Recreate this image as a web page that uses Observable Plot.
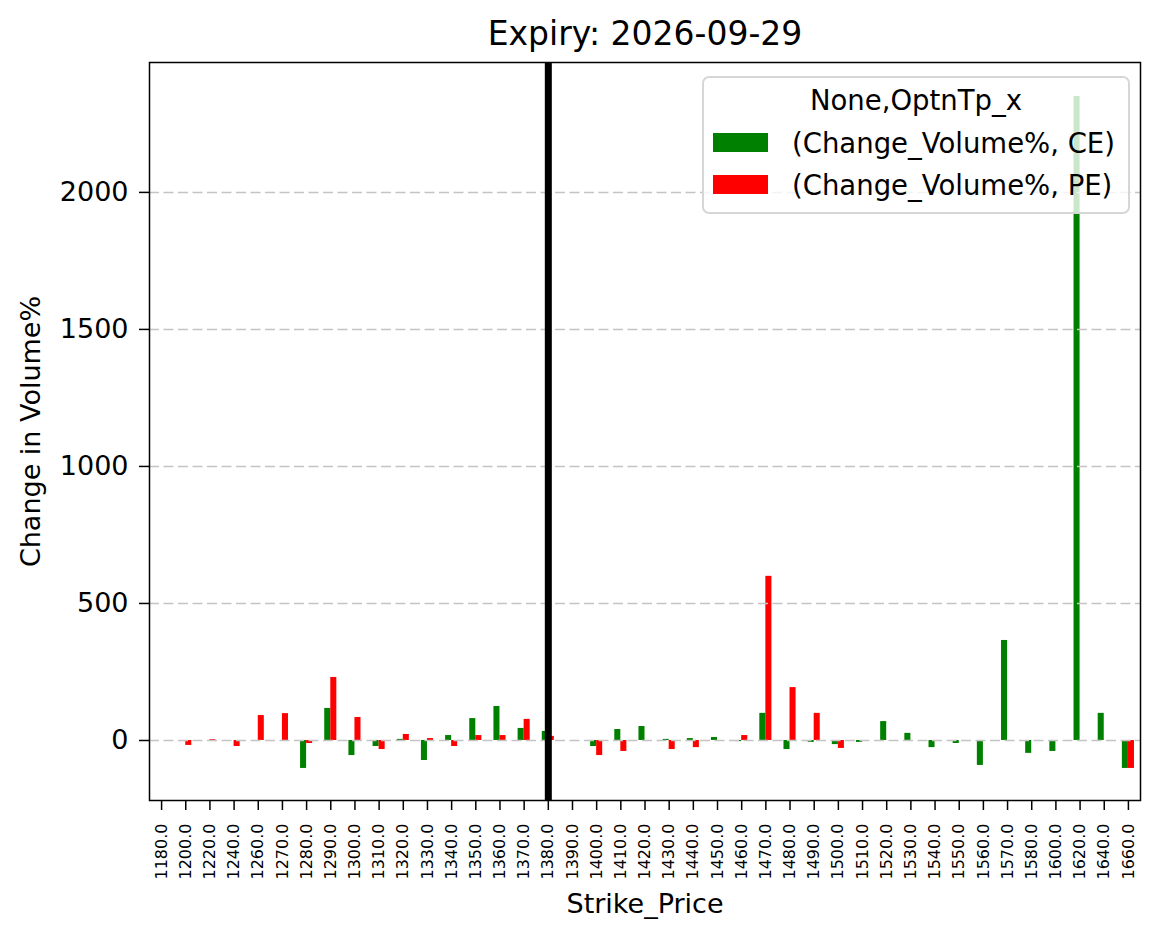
<!DOCTYPE html>
<html>
<head>
<meta charset="utf-8">
<script src="https://cdn.jsdelivr.net/npm/d3@7"></script>
<script src="https://cdn.jsdelivr.net/npm/@observablehq/plot@0.6"></script>
<style>
  html, body { margin: 0; padding: 0; background: #fff; }
  #wrap { position: relative; width: 1161px; height: 939px; font-family: "DejaVu Sans", sans-serif; }
  #legend { position: absolute; left: 702px; top: 76px; width: 424px; height: 134px;
    border: 2px solid #d6d6d6; border-radius: 7px; background: rgba(255,255,255,0.8); }
  .lt { position: absolute; font-size: 27.5px; line-height: 27px; white-space: pre; color: #000; }
  .sw { position: absolute; width: 55px; height: 19px; }
</style>
</head>
<body>
<div id="wrap"></div>
<script>
const strikes = [1180,1200,1220,1240,1260,1270,1280,1290,1300,1310,1320,1330,1340,1350,1360,1370,1380,1390,1400,1410,1420,1430,1440,1450,1460,1470,1480,1490,1500,1510,1520,1530,1540,1550,1560,1570,1580,1600,1620,1640,1660];
const ceValues = [null,null,null,null,null,null,-102,117,-55,-22,4,-73,18,80,124,44,33,null,-22,40,51,4,7,11,-4,99,-33,-7,-15,-7,69,26,-26,-11,-91,365,-47,-40,2350,99,-102];
const peValues = [null,-18,3,-22,91,98,-11,230,84,-33,22,7,-22,18,18,77,15,-3,-55,-40,-2,-33,-26,null,18,599,193,99,-29,null,null,null,null,null,null,null,null,null,null,null,-102];
const yTicks = [0,500,1000,1500,2000];
const atmStrike = 1380;
const seriesNames = ["(Change_Volume%, CE)", "(Change_Volume%, PE)"];
const seriesColors = ["green", "red"];
const titleText = "Expiry: 2026-09-29";
const xLabel = "Strike_Price";
const yLabel = "Change in Volume%";
const legendTitle = "None,OptnTp_x";

const idx = strikes.map((_, i) => i);
const ceData = idx.filter(i => ceValues[i] != null).map(i => ({i, v: ceValues[i]}));
const peData = idx.filter(i => peValues[i] != null).map(i => ({i, v: peValues[i]}));
const atmIndex = strikes.indexOf(atmStrike);
const barW = 0.25;

const chart = Plot.plot({
  width: 1161,
  height: 939,
  marginLeft: 149,
  marginRight: 21,
  marginTop: 62,
  marginBottom: 139,
  style: {fontFamily: "DejaVu Sans, sans-serif", color: "#000", background: "#fff"},
  x: {type: "linear", domain: [-0.5, strikes.length - 0.5]},
  y: {domain: [-219, 2474]},
  marks: [
    Plot.rectY(ceData, {x1: d => d.i - barW, x2: d => d.i, y: "v", fill: seriesColors[0]}),
    Plot.rectY(peData, {x1: d => d.i, x2: d => d.i + barW, y: "v", fill: seriesColors[1]}),
    Plot.ruleY(yTicks, {stroke: "#c4c4c4", strokeWidth: 1.5, strokeDasharray: "10,4.5"}),
    Plot.ruleX([atmIndex], {stroke: "black", strokeWidth: 7}),
    Plot.frame({stroke: "black", strokeWidth: 1.5}),
    Plot.axisX(idx, {tickFormat: i => strikes[i].toFixed(1), tickRotate: -90, fontSize: 16, tickSize: 10, tickPadding: 13, strokeWidth: 1.5, label: null}),
    Plot.axisY(yTicks, {tickFormat: d => String(d), fontSize: 27, tickSize: 10, tickPadding: 11, strokeWidth: 1.5, label: null}),
    Plot.text([titleText], {frameAnchor: "top", dy: -28, fontSize: 33, lineAnchor: "middle"}),
    Plot.text([xLabel], {frameAnchor: "bottom", dy: 104, fontSize: 27, lineAnchor: "middle"}),
    Plot.text([yLabel], {frameAnchor: "left", dx: -118, rotate: -90, fontSize: 27, lineAnchor: "middle", textAnchor: "middle"})
  ]
});

const wrap = document.getElementById("wrap");
wrap.appendChild(chart);

const legend = document.createElement("div");
legend.id = "legend";
wrap.appendChild(legend);
const lx = 704, ly = 78;
const t = document.createElement("div");
t.className = "lt";
t.textContent = legendTitle;
t.style.left = "0px"; t.style.width = "424px"; t.style.textAlign = "center";
t.style.top = (87 - ly) + "px";
legend.appendChild(t);
const swTops = [133, 175];
const txTops = [130, 172];
seriesNames.forEach((name, k) => {
  const s = document.createElement("div");
  s.className = "sw";
  s.style.background = seriesColors[k];
  s.style.left = (713 - lx) + "px";
  s.style.top = (swTops[k] - ly) + "px";
  legend.appendChild(s);
  const tx = document.createElement("div");
  tx.className = "lt";
  tx.textContent = name;
  tx.style.left = (792 - lx) + "px";
  tx.style.top = (txTops[k] - ly) + "px";
  legend.appendChild(tx);
});
</script>
</body>
</html>
